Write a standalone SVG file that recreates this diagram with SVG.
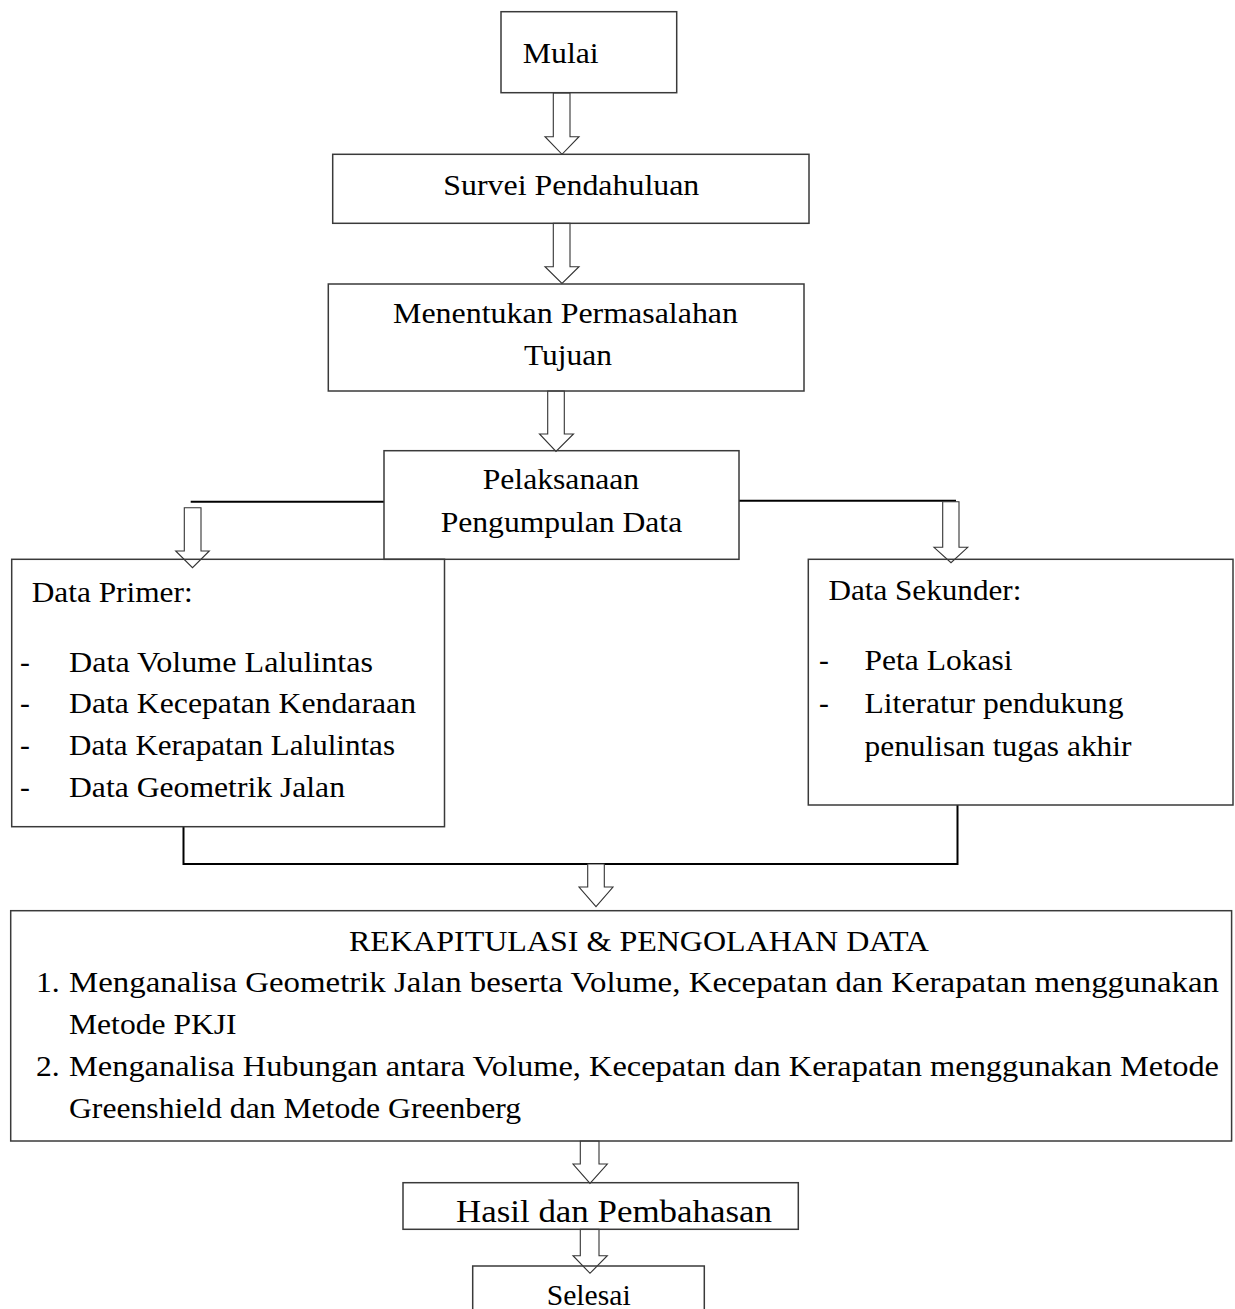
<svg xmlns="http://www.w3.org/2000/svg" width="1235" height="1309" viewBox="0 0 1235 1309">
<style>
  .box { fill: none; stroke: #3a3a3a; stroke-width: 1.5; }
  .line { fill: none; stroke: #000; stroke-width: 2; }
  .arrow { fill: #fff; stroke: #333; stroke-width: 1.1; stroke-linejoin: miter; }
  text { font-family: "Liberation Serif", Tinos, "Times New Roman", Times, serif; font-size: 29.5px; fill: #000; }
</style>
<rect width="1235" height="1309" fill="#fff"/>
<g id="connectors">
  <line class="line" x1="190.7" y1="501.7" x2="384" y2="501.7"/>
  <line class="line" x1="739" y1="500.7" x2="956" y2="500.7"/>
  <polyline class="line" points="183.5,827 183.5,864 957.5,864 957.5,805"/>
  <polygon class="arrow" points="553.3,93 570,93 570,136.7 579,136.7 562,154.3 545,136.7 553.3,136.7"/>
  <polygon class="arrow" points="553.3,223.3 570,223.3 570,266.7 579,266.7 562,283.5 545,266.7 553.3,266.7"/>
  <polygon class="arrow" points="547.7,391 564.3,391 564.3,434 573.5,434 556,451.5 539.5,434 547.7,434"/>
  <polygon class="arrow" points="184.3,507.7 201,507.7 201,551 209.3,551 192.5,567.7 175.7,551 184.3,551"/>
  <polygon class="arrow" points="942.7,501.7 959,501.7 959,547.3 967.7,547.3 951,562.7 934,547.3 942.7,547.3"/>
  <polygon class="arrow" points="587.7,864 604.3,864 604.3,887 613,887 596,906.7 579,887 587.7,887"/>
  <polygon class="arrow" points="580.3,1141 599,1141 599,1164 607.3,1164 590,1183.3 573,1164 580.3,1164"/>
  <polygon class="arrow" points="580.3,1229.3 599,1229.3 599,1255.7 607.3,1255.7 590,1273.3 573,1255.7 580.3,1255.7"/>
</g>
<g id="mulai">
  <rect class="box" x="501" y="11.7" width="175.7" height="81"/>
  <text x="522.7" y="63.3" textLength="76" lengthAdjust="spacingAndGlyphs">Mulai</text>
</g>
<g id="survei">
  <rect class="box" x="332.7" y="154.3" width="476.3" height="69"/>
  <text x="443.3" y="195" textLength="256" lengthAdjust="spacingAndGlyphs">Survei Pendahuluan</text>
</g>
<g id="menentukan">
  <rect class="box" x="328.3" y="284" width="475.7" height="107"/>
  <text x="393" y="323.3" textLength="345" lengthAdjust="spacingAndGlyphs">Menentukan Permasalahan</text>
  <text x="524" y="365" textLength="88" lengthAdjust="spacingAndGlyphs">Tujuan</text>
</g>
<g id="pelaksanaan">
  <rect class="box" x="384" y="450.7" width="355" height="108.6"/>
  <text x="482.7" y="489.3" textLength="156.5" lengthAdjust="spacingAndGlyphs">Pelaksanaan</text>
  <text x="440.7" y="531.7" textLength="241.5" lengthAdjust="spacingAndGlyphs">Pengumpulan Data</text>
</g>
<g id="data-primer">
  <rect class="box" x="11.7" y="559.3" width="432.8" height="267.4"/>
  <text x="31.7" y="601.7" textLength="161" lengthAdjust="spacingAndGlyphs">Data Primer:</text>
  <text x="20" y="671.5">-</text>
  <text x="69" y="671.5" textLength="304" lengthAdjust="spacingAndGlyphs">Data Volume Lalulintas</text>
  <text x="20" y="712.5">-</text>
  <text x="69" y="712.5" textLength="347" lengthAdjust="spacingAndGlyphs">Data Kecepatan Kendaraan</text>
  <text x="20" y="754.5">-</text>
  <text x="69" y="754.5" textLength="326" lengthAdjust="spacingAndGlyphs">Data Kerapatan Lalulintas</text>
  <text x="20" y="796.5">-</text>
  <text x="69" y="796.5" textLength="276" lengthAdjust="spacingAndGlyphs">Data Geometrik Jalan</text>
</g>
<g id="data-sekunder">
  <rect class="box" x="808.3" y="559.3" width="424.7" height="245.7"/>
  <text x="828.4" y="599.5" textLength="193" lengthAdjust="spacingAndGlyphs">Data Sekunder:</text>
  <text x="819" y="670">-</text>
  <text x="864.5" y="670" textLength="148" lengthAdjust="spacingAndGlyphs">Peta Lokasi</text>
  <text x="819" y="712.5">-</text>
  <text x="864.5" y="712.5" textLength="259" lengthAdjust="spacingAndGlyphs">Literatur pendukung</text>
  <text x="864.5" y="755.5" textLength="267" lengthAdjust="spacingAndGlyphs">penulisan tugas akhir</text>
</g>
<g id="rekapitulasi">
  <rect class="box" x="10.7" y="910.7" width="1220.9" height="230.3"/>
  <text x="349" y="951" textLength="580" lengthAdjust="spacingAndGlyphs">REKAPITULASI &amp; PENGOLAHAN DATA</text>
  <text x="36" y="992" textLength="23.7" lengthAdjust="spacingAndGlyphs">1.</text>
  <text x="69" y="992" textLength="1150" lengthAdjust="spacingAndGlyphs">Menganalisa Geometrik Jalan beserta Volume, Kecepatan dan Kerapatan menggunakan</text>
  <text x="69" y="1034" textLength="167.6" lengthAdjust="spacingAndGlyphs">Metode PKJI</text>
  <text x="36" y="1076" textLength="23.7" lengthAdjust="spacingAndGlyphs">2.</text>
  <text x="69" y="1076" textLength="1150" lengthAdjust="spacingAndGlyphs">Menganalisa Hubungan antara Volume, Kecepatan dan Kerapatan menggunakan Metode</text>
  <text x="69" y="1118" textLength="452" lengthAdjust="spacingAndGlyphs">Greenshield dan Metode Greenberg</text>
</g>
<g id="hasil">
  <rect class="box" x="403" y="1182.7" width="395.3" height="46.6"/>
  <text x="456" y="1222" style="font-size:30.5px" textLength="316" lengthAdjust="spacingAndGlyphs">Hasil dan Pembahasan</text>
</g>
<g id="selesai">
  <rect class="box" x="472.7" y="1266" width="231.6" height="60"/>
  <text x="546.7" y="1305" textLength="84" lengthAdjust="spacingAndGlyphs">Selesai</text>
</g>
</svg>
